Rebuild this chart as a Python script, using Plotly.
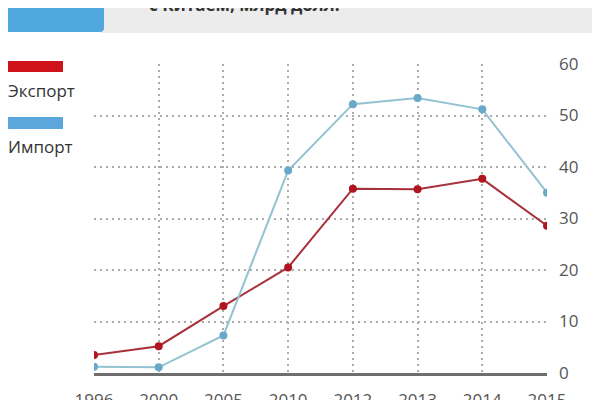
import plotly.graph_objects as go

# Trade with China, bn USD
years = ['1996', '2000', '2005', '2010', '2012', '2013', '2014', '2015']
export_vals = [3.5, 5.2, 13.0, 20.5, 35.8, 35.7, 37.7, 28.6]
import_vals = [1.2, 1.1, 7.3, 39.3, 52.2, 53.4, 51.2, 35.0]
y_ticks = [0, 10, 20, 30, 40, 50, 60]

# page has an 8px body margin, so the figure is a bit smaller and shifted
W, H = 592, 392
L, R, T, B = 86, 53, 56, 27

# screen pixel -> paper helpers for the decorations (plot area at 94..547, 64..373)
def px(x):
    return (x - 94) / 453

def py(y):
    return (373 - y) / 309

fig = go.Figure()

fig.add_trace(go.Scatter(x=years, y=export_vals, mode='lines+markers', name='Экспорт',
                         line=dict(color='#A8303A', width=2),
                         marker=dict(color='#B0141E', size=8)))
fig.add_trace(go.Scatter(x=years, y=import_vals, mode='lines+markers', name='Импорт',
                         line=dict(color='#93C3D2', width=2),
                         marker=dict(color='#6AA8CA', size=8)))

shapes = []
# top banner
shapes.append(dict(type='rect', xref='paper', yref='paper', x0=px(100), x1=px(610), y0=py(33), y1=py(-10),
                   fillcolor='#ECECEC', line_width=0, layer='below'))
shapes.append(dict(type='path', xref='paper', yref='paper', layer='below', line_width=0,
                   fillcolor='#50A8DF',
                   path='M {0},{1} L {2},{1} L {2},{3} Q {2},{4} {5},{4} L {0},{4} Z'.format(
                       px(-10), py(-10), px(104), py(28), py(32), px(100))))
# legend swatches
shapes.append(dict(type='rect', xref='paper', yref='paper', x0=px(8), x1=px(63), y0=py(72), y1=py(61),
                   fillcolor='#D0121B', line_width=0))
shapes.append(dict(type='rect', xref='paper', yref='paper', x0=px(8), x1=px(63), y0=py(129), y1=py(117),
                   fillcolor='#5BA7DB', line_width=0))

annotations = [
    dict(text='<b>с Китаем, млрд долл.</b>', xref='paper', yref='paper', x=px(147), y=py(5),
         xanchor='left', yanchor='middle', showarrow=False, font=dict(size=17, color='#333333')),
    dict(text='Экспорт', xref='paper', yref='paper', x=px(6), y=py(91),
         xanchor='left', yanchor='middle', showarrow=False, font=dict(size=17, color='#333333')),
    dict(text='Импорт', xref='paper', yref='paper', x=px(6), y=py(146),
         xanchor='left', yanchor='middle', showarrow=False, font=dict(size=17, color='#333333')),
]

fig.update_layout(
    width=W, height=H,
    margin=dict(l=L, r=R, t=T, b=B),
    plot_bgcolor='white', paper_bgcolor='white',
    showlegend=False,
    font=dict(family='Open Sans', size=17, color='#555555'),
    shapes=shapes,
    annotations=annotations,
)
fig.update_xaxes(
    type='category', range=[0, len(years) - 1], automargin=False,
    showgrid=True, gridcolor='#ABABAB', griddash='2px,4px', gridwidth=2,
    showline=True, linecolor='#6E6E6E', linewidth=3,
    ticks='', ticklabelstandoff=10, zeroline=False,
)
fig.update_yaxes(
    side='right', range=[0, 60], tickvals=y_ticks, automargin=False,
    showgrid=True, gridcolor='#ABABAB', griddash='2px,4px', gridwidth=2,
    zeroline=False, ticks='', ticklabelstandoff=11,
)

fig.write_html("out.html")
